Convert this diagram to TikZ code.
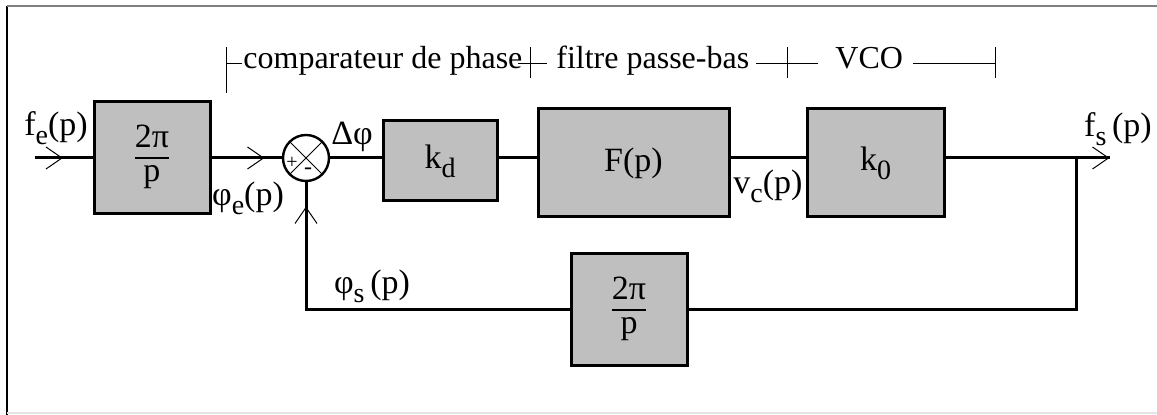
\documentclass[tikz,border=0pt]{standalone}
\usepackage{fontspec}
\setmainfont{Liberation Serif}
\usetikzlibrary{decorations.markings}
\newcommand{\lsub}[1]{\raisebox{-4.5pt}{\fontsize{14}{14}\selectfont #1}}
\newcommand{\twopip}{\renewcommand{\arraystretch}{0.85}\setlength{\arrayrulewidth}{1.3pt}%
  \begin{tabular}{@{}c@{}}2π\\ \hline p\end{tabular}}

\begin{document}
\begin{tikzpicture}[x=0.5pt, y=-0.5pt,
  font=\fontsize{17}{19}\selectfont,
  blk/.style={draw, line width=1.5pt, fill=black!25, inner sep=0pt},
  sig/.style={line width=1.5pt},
  thinl/.style={line width=0.5pt},
  lbl/.style={inner sep=0pt},
  stage/.style={inner sep=0pt, anchor=base west, font=\fontsize{16}{18}\selectfont},
  tipat/.style={postaction={decorate}, decoration={markings,
    mark=at position #1 with {\draw[line width=0.5pt] (-8pt,-5.5pt) -- (0pt,0pt) -- (-8pt,5.5pt);}}}
]
  \useasboundingbox (0,0) rectangle (1157,415);
  % frame
  \draw[line width=1pt] (7,6) -- (7,415);
  \draw[gray, line width=1pt] (7,6) -- (1157,6);
  \draw[black!10, line width=0.8pt] (7,413) -- (1157,413);

  % blocks
  \node[blk, minimum width=58pt, minimum height=56pt] (num) at (152,158) {\twopip};
  \node[draw, circle, line width=1.2pt, minimum size=23pt, inner sep=0pt] (cmp) at (306,158) {};
  \node[blk, minimum width=57pt, minimum height=40pt] (kd) at (440,161) {k\lsub{d}};
  \node[blk, minimum width=95.5pt, minimum height=54pt] (filt) at (633.5,163) {F(p)};
  \node[blk, minimum width=68.5pt, minimum height=54pt] (vco) at (875.5,163) {k\lsub{0}};
  \node[blk, minimum width=58pt, minimum height=56pt] (div) at (629,310) {\twopip};

  % comparator signs
  \draw[thinl] (cmp.north west) -- (cmp.south east);
  \draw[thinl] (cmp.north east) -- (cmp.south west);
  \node[lbl, font=\fontsize{10}{10}\selectfont] at (292,163) {+};
  \node[lbl, font=\fontsize{12}{12}\selectfont] at (308,171) {-};

  % signal path
  \coordinate (in) at (35,158);
  \coordinate (out) at (1110,158);
  \coordinate (br) at (1076,158);
  \draw[sig, tipat=13.5pt] (in) -- (num.west);
  \draw[sig, tipat=26pt] (num.east) -- (cmp.west);
  \draw[sig] (cmp.east) -- (cmp.east -| kd.west);
  \draw[sig] (cmp.east -| kd.east) -- (cmp.east -| filt.west);
  \draw[sig] (cmp.east -| filt.east) -- (cmp.east -| vco.west);
  \draw[sig, tipat=81.5pt] (cmp.east -| vco.east) -- (out);
  \draw[sig] (br) |- (div.east);
  \draw[sig, tipat=183pt] (div.west) -| (cmp.south);

  % signal labels
  \node[lbl] at (56,128) {f\lsub{e}(p)};
  \node[lbl] at (248,198) {φ\lsub{e}(p)};
  \node[lbl] at (352,137) {Δφ};
  \node[lbl] at (768,186) {v\lsub{c}(p)};
  \node[lbl] at (1118,129) {f\lsub{s}\,(p)};
  \node[lbl] at (372,286) {φ\lsub{s}\,(p)};

  %% stage bar
  \node[stage] (tcmp) at (243,69) {comparateur de phase};
  \node[stage] (tflt) at (556,69) {filtre passe-bas};
  \node[stage] (tvco) at (835,69) {VCO};
  \draw[thinl] (226,47) -- (226,93);
  \draw[thinl] (226,64) -- (242,64);
  \draw[thinl] (530,47) -- (530,78);
  \draw[thinl] (518,64) -- (547,64);
  \draw[thinl] (787,47) -- (787,78);
  \draw[thinl] (756,64) -- (818,64);
  \draw[thinl] (995,47) -- (995,78);
  \draw[thinl] (913,64) -- (995,64);
\end{tikzpicture}
\end{document}
